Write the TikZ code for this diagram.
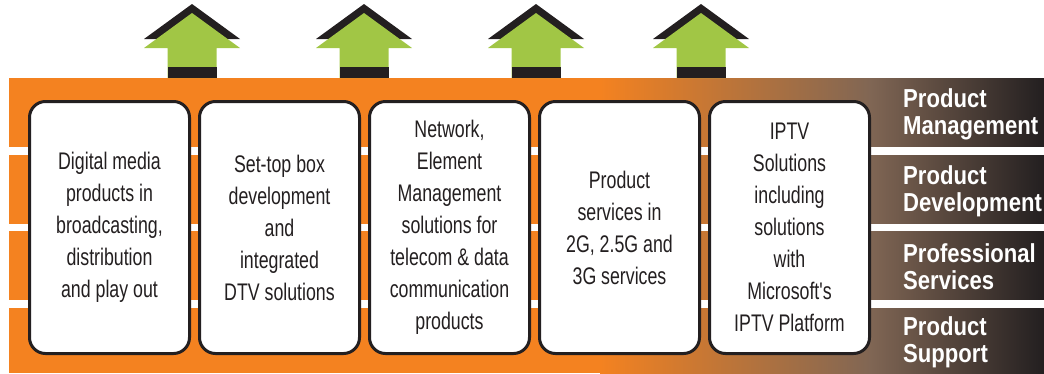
\documentclass[tikz,border=0pt]{standalone}
\usepackage{fontspec}
\newfontfamily\boxfont{Liberation Sans}[FakeStretch=0.74]
\newfontfamily\bandfont{Liberation Sans}[FakeStretch=0.85]
\usetikzlibrary{positioning}
\definecolor{bandorange}{RGB}{244,130,32}
\definecolor{bandbrown}{RGB}{128,102,84}
\definecolor{banddark}{RGB}{35,31,32}
\definecolor{arrowgreen}{RGB}{161,198,69}
\tikzset{
    stripe/.style={fill=white, draw=none},
    servicebox/.style={draw=banddark, line width=3pt, fill=white, rounded corners=16pt,
        minimum width=160pt, minimum height=252pt, inner sep=0pt, align=center,
        text=banddark, font=\boxfont\fontsize{24}{32}\selectfont},
    bandlabel/.style={anchor=west, align=left, inner sep=0pt, text=white,
        font=\bandfont\bfseries\fontsize{26}{27}\selectfont},
    arrowtop/.style={fill=banddark},
    arrowbody/.style={fill=arrowgreen},
}
\begin{document}
\begin{tikzpicture}[x=1pt, y=-1pt]
	\useasboundingbox (0,0) rectangle (1044,373);
	% band
	\fill[bandorange] (9,78) rectangle (602,373);
	\shade[left color=bandorange, right color=bandbrown] (600,78) rectangle (871,373);
	\shade[left color=bandbrown, right color=banddark] (870,78) rectangle (1044,373);
	\fill[stripe] (9,147) rectangle (1044,155);
	\fill[stripe] (9,224) rectangle (1044,231);
	\fill[stripe] (9,300) rectangle (1044,308);
	% arrows
\begin{scope}[shift={(192,0)}]
	\fill[arrowtop] (-48,39)--(0,4)--(48,39)--cycle;
	\fill[arrowbody] (-48,48)--(0,13)--(48,48)--(24.5,48)--(24.5,78)--(-24.5,78)--(-24.5,48)--cycle;
	\fill[arrowtop] (-24.5,67) rectangle (24.5,78);
\end{scope}
\begin{scope}[shift={(364,0)}]
	\fill[arrowtop] (-48,39)--(0,4)--(48,39)--cycle;
	\fill[arrowbody] (-48,48)--(0,13)--(48,48)--(24.5,48)--(24.5,78)--(-24.5,78)--(-24.5,48)--cycle;
	\fill[arrowtop] (-24.5,67) rectangle (24.5,78);
\end{scope}
\begin{scope}[shift={(536,0)}]
	\fill[arrowtop] (-48,39)--(0,4)--(48,39)--cycle;
	\fill[arrowbody] (-48,48)--(0,13)--(48,48)--(24.5,48)--(24.5,78)--(-24.5,78)--(-24.5,48)--cycle;
	\fill[arrowtop] (-24.5,67) rectangle (24.5,78);
\end{scope}
\begin{scope}[shift={(701,0)}]
	\fill[arrowtop] (-48,39)--(0,4)--(48,39)--cycle;
	\fill[arrowbody] (-48,48)--(0,13)--(48,48)--(24.5,48)--(24.5,78)--(-24.5,78)--(-24.5,48)--cycle;
	\fill[arrowtop] (-24.5,67) rectangle (24.5,78);
\end{scope}
	% boxes
	\node[servicebox] (media) at (109.5,227.5) {Digital media\\products in\\broadcasting,\\distribution\\and play out};
	\node[servicebox, right=7pt of media] (settop) {Set-top box\\development\\and\\integrated\\DTV solutions};
	\node[servicebox, right=7pt of settop] (network) {Network,\\Element\\Management\\solutions for\\telecom \& data\\communication\\products};
	\node[servicebox, right=7pt of network] (mobile) {Product\\services in\\2G, 2.5G and\\3G services};
	\node[servicebox, right=7pt of mobile] (iptv) {IPTV\\Solutions\\including\\solutions\\with\\Microsoft's\\IPTV Platform};
	% band labels
	\node[bandlabel] (management) at (903,114) {Product\\Management};
	\node[bandlabel] (development) at (903,191) {Product\\Development};
	\node[bandlabel] (professional) at (903,267) {Professional\\Services};
	\node[bandlabel] (support) at (903,342) {Product\\Support};
\end{tikzpicture}
\end{document}
